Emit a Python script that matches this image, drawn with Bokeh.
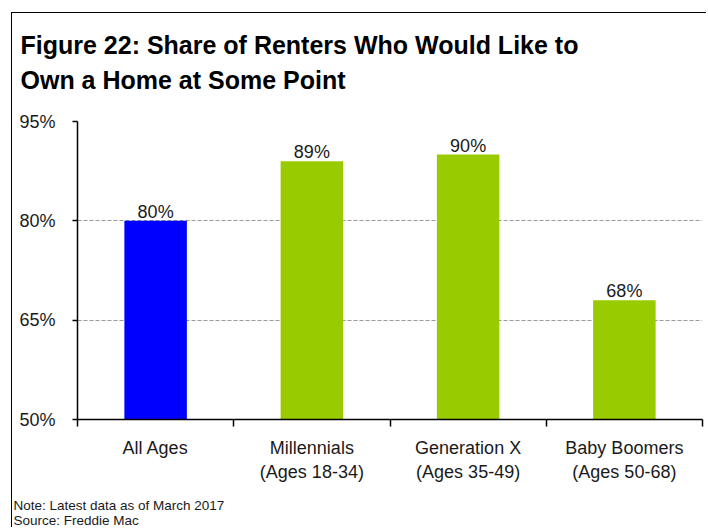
from bokeh.plotting import figure
from bokeh.models import (ColumnDataSource, FixedTicker, Range1d, Title,
                          PrintfTickFormatter)
from bokeh.core.properties import value
from bokeh.embed import file_html
from bokeh.resources import INLINE

# ---- data ----
title_lines = ["Figure 22: Share of Renters Who Would Like to",
               "Own a Home at Some Point"]
categories = ["All Ages",
              "Millennials\n(Ages 18-34)",
              "Generation X\n(Ages 35-49)",
              "Baby Boomers\n(Ages 50-68)"]
shares = [80, 89, 90, 68]
share_labels = ["80%", "89%", "90%", "68%"]
y_ticks = [50, 65, 80, 95]
notes = ["Note: Latest data as of March 2017", "Source: Freddie Mac"]

# ---- styles ----
bar_colors = ["#0000FF", "#99CC00", "#99CC00", "#99CC00"]
FONT = "Liberation Sans"
TITLE_FONT = "Liberation Sans"
TXT = "#1a1a1a"

x = [i + 0.5 for i in range(len(categories))]
src = ColumnDataSource(dict(x=x, top=shares, label=share_labels, color=bar_colors))

p = figure(width=695, height=515, output_backend="svg", toolbar_location=None,
           x_range=Range1d(0, len(categories)),
           y_range=Range1d(y_ticks[0], y_ticks[-1]),
           min_border_left=65, min_border_right=5,
           min_border_top=108, min_border_bottom=109,
           margin=(12, 0, 0, 11),
           styles={"border-left": "1.5px solid black",
                   "border-top": "1.5px solid black"})
p.outline_line_color = None
p.background_fill_color = "white"
p.border_fill_color = "white"

p.vbar(x="x", top="top", bottom=y_ticks[0], width=0.4, color="color",
       line_color=None, source=src)
p.text(x="x", y="top", text="label", source=src, text_align="center",
       text_baseline="alphabetic", y_offset=-9, text_font=value(FONT),
       text_font_size="18px", text_color=TXT)

# x axis
xa = p.xaxis[0]
xa.ticker = FixedTicker(ticks=x, minor_ticks=list(range(len(categories) + 1)))
xa.major_label_overrides = {xi: c for xi, c in zip(x, categories)}
xa.major_tick_line_color = None
xa.major_tick_out = 0
xa.major_tick_in = 0
xa.minor_tick_out = 7
xa.minor_tick_in = 0
xa.minor_tick_line_color = "black"
xa.minor_tick_line_width = 1.5
xa.axis_line_color = "black"
xa.axis_line_width = 1.5
xa.major_label_text_font = FONT
xa.major_label_text_font_size = "18px"
xa.major_label_text_color = TXT
xa.major_label_standoff = 11

# y axis
ya = p.yaxis[0]
ya.ticker = FixedTicker(ticks=y_ticks)
ya.formatter = PrintfTickFormatter(format="%d%%")
ya.major_tick_out = 5
ya.major_tick_in = 0
ya.minor_tick_line_color = None
ya.major_tick_line_color = "black"
ya.major_tick_line_width = 1.5
ya.axis_line_color = "black"
ya.axis_line_width = 1.5
ya.major_label_text_font = FONT
ya.major_label_text_font_size = "18px"
ya.major_label_text_color = TXT
ya.major_label_standoff = 17

p.xgrid.grid_line_color = None
p.ygrid.ticker = FixedTicker(ticks=y_ticks)
p.ygrid.grid_line_color = "#9a9a9a"
p.ygrid.grid_line_dash = "4 2"
p.ygrid.grid_line_width = 1.2

# title (trailing blank line used as spacing above the plot)
p.add_layout(Title(text="\n".join(title_lines) + "\n ", align="left",
                   vertical_align="bottom", offset=-57, standoff=-16,
                   text_font=TITLE_FONT, text_font_style="bold",
                   text_font_size="25px", text_line_height=1.26,
                   text_color="black"), "above")

# notes below the axis (leading blank line used as spacing)
p.add_layout(Title(text=" \n" + "\n".join(notes), align="left",
                   vertical_align="top", offset=-64, standoff=-3,
                   text_font=FONT, text_font_style="normal",
                   text_font_size="13.5px", text_color=TXT), "below")

open("out.html", "w").write(file_html(p, INLINE))
